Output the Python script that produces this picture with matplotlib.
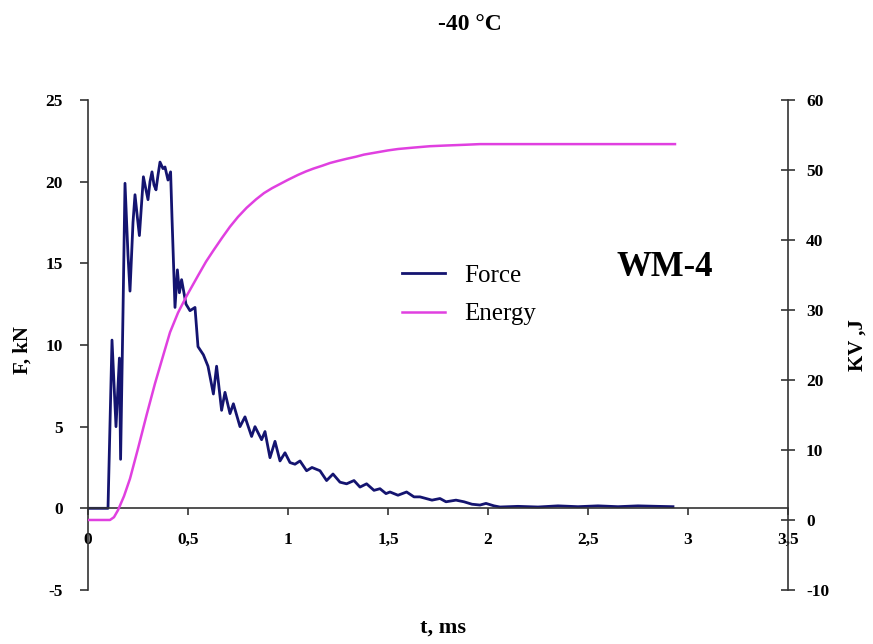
import matplotlib
matplotlib.use("Agg")
import matplotlib.pyplot as plt

plt.rcParams['font.family'] = ['Liberation Serif', 'DejaVu Serif']

# Force curve (t in ms, F in kN)
t_force = [0, 0.10, 0.12, 0.14, 0.157, 0.163, 0.175, 0.185, 0.20, 0.21, 0.225, 0.235,
           0.247, 0.257, 0.267, 0.277, 0.29, 0.30, 0.31, 0.32, 0.33, 0.34, 0.35, 0.36,
           0.375, 0.385, 0.40, 0.413, 0.42, 0.435, 0.447, 0.457, 0.468, 0.49, 0.51,
           0.535, 0.55, 0.577, 0.60, 0.627, 0.643, 0.668, 0.685, 0.71, 0.727, 0.76,
           0.785, 0.818, 0.835, 0.868, 0.885, 0.91, 0.935, 0.96, 0.985, 1.01, 1.035,
           1.06, 1.093, 1.12, 1.16, 1.193, 1.225, 1.26, 1.293, 1.33, 1.36, 1.393, 1.43,
           1.46, 1.49, 1.51, 1.55, 1.593, 1.63, 1.66, 1.72, 1.76, 1.79, 1.84, 1.88,
           1.92, 1.96, 1.99, 2.03, 2.06, 2.15, 2.25, 2.35, 2.45, 2.55, 2.65, 2.75,
           2.85, 2.925]
force = [0, 0, 10.3, 5.0, 9.2, 3.0, 12.0, 19.9, 15.5, 13.3, 17.5, 19.2,
         17.8, 16.7, 18.5, 20.3, 19.5, 18.9, 20.0, 20.6, 19.8, 19.5, 20.4, 21.2,
         20.8, 20.9, 20.1, 20.6, 17.8, 12.3, 14.6, 13.2, 14.0, 12.5, 12.1,
         12.3, 9.9, 9.4, 8.7, 7.0, 8.7, 6.0, 7.1, 5.8, 6.4, 5.0,
         5.6, 4.4, 5.0, 4.2, 4.7, 3.1, 4.1, 2.9, 3.4, 2.8, 2.7,
         2.9, 2.3, 2.5, 2.3, 1.7, 2.1, 1.6, 1.5, 1.7, 1.3, 1.5, 1.1,
         1.2, 0.9, 1.0, 0.8, 1.0, 0.7, 0.7, 0.5, 0.6, 0.4, 0.5, 0.4,
         0.25, 0.2, 0.3, 0.15, 0.08, 0.12, 0.08, 0.15, 0.1, 0.15, 0.1, 0.15,
         0.12, 0.1]

# Energy curve (t in ms, KV in J)
t_energy = [0, 0.11, 0.13, 0.15, 0.18, 0.21, 0.25, 0.293, 0.335, 0.377, 0.41, 0.45,
            0.493, 0.55, 0.59, 0.627, 0.67, 0.71, 0.75, 0.793, 0.84, 0.88, 0.92, 0.96,
            1.0, 1.05, 1.09, 1.127, 1.17, 1.21, 1.25, 1.293, 1.34, 1.38, 1.42, 1.46,
            1.5, 1.55, 1.627, 1.71, 1.79, 1.88, 1.96, 2.1, 2.3, 2.6, 2.935]
energy = [0, 0, 0.4, 1.4, 3.4, 5.9, 10.2, 15.0, 19.5, 23.6, 26.8, 29.6,
          32.0, 34.9, 36.9, 38.5, 40.3, 41.9, 43.3, 44.6, 45.8, 46.7, 47.4, 48.0,
          48.6, 49.3, 49.8, 50.2, 50.6, 51.0, 51.3, 51.6, 51.9, 52.2, 52.4, 52.6,
          52.8, 53.0, 53.2, 53.4, 53.5, 53.6, 53.7, 53.7, 53.7, 53.7, 53.7]

x_ticks = [0, 0.5, 1, 1.5, 2, 2.5, 3, 3.5]
x_labels = ['0', '0,5', '1', '1,5', '2', '2,5', '3', '3,5']
f_ticks = [-5, 0, 5, 10, 15, 20, 25]
e_ticks = [-10, 0, 10, 20, 30, 40, 50, 60]

fig = plt.figure(figsize=(8.73, 6.44), dpi=100)
ax = fig.add_axes([0.1008, 0.0839, 0.8018, 0.7608])
ax2 = ax.twinx()

l1, = ax.plot(t_force, force, color='#141470', lw=2.0, label='Force')
l2, = ax2.plot(t_energy, energy, color='#e040e0', lw=1.8, label='Energy')

ax.set_xlim(0, 3.5)
ax.set_ylim(-5, 25)
ax2.set_ylim(-10, 60)

ax.spines['top'].set_visible(False)
ax.spines['right'].set_visible(False)
ax.spines['bottom'].set_position(('data', 0))
for s in ['top', 'bottom', 'left']:
    ax2.spines[s].set_visible(False)
for sp in [ax.spines['left'], ax.spines['bottom'], ax2.spines['right']]:
    sp.set_color('#333333')
    sp.set_linewidth(1.2)

ax.set_xticks(x_ticks)
ax.set_xticklabels(x_labels, fontweight='bold', fontsize=12.5)
ax.set_yticks(f_ticks)
ax.set_yticklabels([str(v) for v in f_ticks], fontweight='bold', fontsize=12.5)
ax2.set_yticks(e_ticks)
ax2.set_yticklabels([str(v) for v in e_ticks], fontweight='bold', fontsize=12.5)

ax.tick_params(axis='x', direction='out', length=5, width=1.2, pad=12, color='#333333')
ax.tick_params(axis='y', direction='out', length=6, width=1.2, pad=12, color='#333333')
ax2.tick_params(axis='y', direction='inout', length=10, width=1.2, pad=8, color='#333333')

fig.text(470 / 873, 1 - 25 / 644, '-40 °C', ha='center', va='center',
         fontsize=17, fontweight='bold')
fig.text(23 / 873, 1 - 350 / 644, 'F, kN', ha='center', va='center',
         rotation=90, fontsize=15, fontweight='bold')
fig.text(858 / 873, 1 - 345 / 644, 'KV ,J', ha='center', va='center',
         rotation=90, fontsize=15, fontweight='bold')
fig.text(443 / 873, 1 - 628 / 644, 't, ms', ha='center', va='center',
         fontsize=16, fontweight='bold')
fig.text(665 / 873, 1 - 268 / 644, 'WM-4', ha='center', va='center',
         fontsize=25, fontweight='bold')

ax2.legend(handles=[l1, l2], loc='upper left', frameon=False, fontsize=18,
           bbox_to_anchor=(392 / 873, 1 - 254 / 644), bbox_transform=fig.transFigure,
           handlelength=1.7, handletextpad=0.8, labelspacing=0.65, borderaxespad=0)

fig.savefig('out.png', dpi=100)
